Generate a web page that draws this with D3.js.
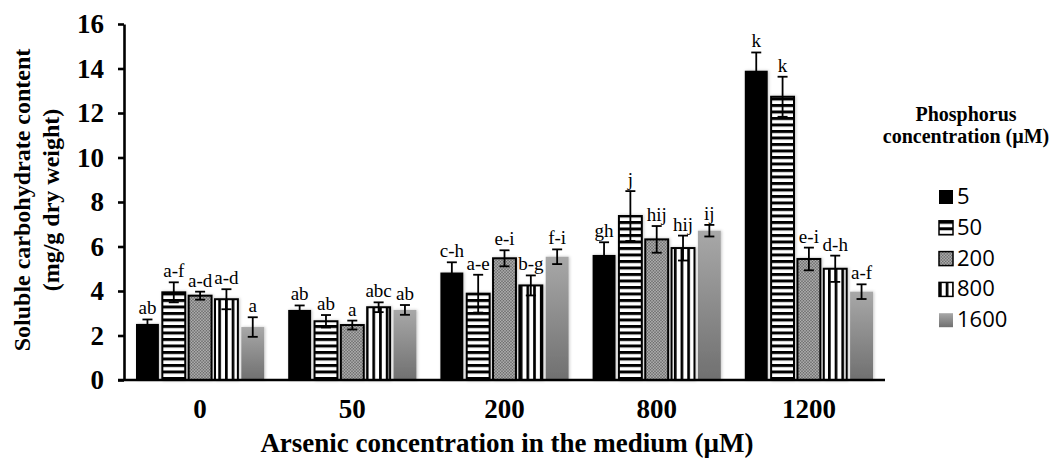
<!DOCTYPE html>
<html>
<head>
<meta charset="utf-8">
<script src="https://cdn.jsdelivr.net/npm/d3@7"></script>
<style>
  body { margin: 0; background: #fff; }
  svg { display: block; }
</style>
</head>
<body>
<svg id="chart"></svg>
<script>
// Soluble carbohydrate content by arsenic and phosphorus concentration

const width = 1051;
const height = 459;

const arsenic = ["0", "50", "200", "800", "1200"];
const phosphorus = ["5", "50", "200", "800", "1600"];
const yTicks = [0, 2, 4, 6, 8, 10, 12, 14, 16];

// means per phosphorus level, one value per arsenic level
const p5 = [2.52, 3.15, 4.83, 5.62, 13.9];
const p50 = [3.94, 2.64, 3.88, 7.37, 12.73];
const p200 = [3.79, 2.47, 5.47, 6.32, 5.44];
const p800 = [3.63, 3.27, 4.25, 5.93, 5.0];
const p1600 = [2.38, 3.15, 5.54, 6.71, 3.97];

// error bars
const e5 = [0.2, 0.2, 0.46, 0.57, 0.82];
const e50 = [0.45, 0.28, 0.85, 1.12, 0.9];
const e200 = [0.18, 0.2, 0.36, 0.6, 0.51];
const e800 = [0.45, 0.22, 0.45, 0.56, 0.59];
const e1600 = [0.44, 0.22, 0.33, 0.26, 0.33];

// significance letters
const l5 = ["ab", "ab", "c-h", "gh", "k"];
const l50 = ["a-f", "ab", "a-e", "j", "k"];
const l200 = ["a-d", "a", "e-i", "hij", "e-i"];
const l800 = ["a-d", "abc", "b-g", "hij", "d-h"];
const l1600 = ["a", "ab", "f-i", "ij", "a-f"];

const means = [p5, p50, p200, p800, p1600];
const errs = [e5, e50, e200, e800, e1600];
const letters = [l5, l50, l200, l800, l1600];

const fills = ["#000", "url(#hstripe)", "url(#checker)", "url(#vstripe)", "url(#grayfade)"];
const outlined = [false, true, true, true, false];

const serif = "'Liberation Serif', 'Times New Roman', serif";

const svg = d3.select("#chart").attr("width", width).attr("height", height);

// ---------- patterns ----------
const defs = svg.append("defs");

const hs = defs.append("pattern")
  .attr("id", "hstripe")
  .attr("patternUnits", "userSpaceOnUse")
  .attr("width", 6)
  .attr("height", 6.5);
hs.append("rect").attr("width", 6).attr("height", 6.5).attr("fill", "#fff");
hs.append("rect").attr("y", 0).attr("width", 6).attr("height", 3).attr("fill", "#000");

const vs = defs.append("pattern")
  .attr("id", "vstripe")
  .attr("patternUnits", "userSpaceOnUse")
  .attr("width", 6.7)
  .attr("height", 6);
vs.append("rect").attr("width", 6.7).attr("height", 6).attr("fill", "#fff");
vs.append("rect").attr("x", 0).attr("width", 2.7).attr("height", 6).attr("fill", "#000");

const ck = defs.append("pattern")
  .attr("id", "checker")
  .attr("patternUnits", "userSpaceOnUse")
  .attr("width", 3)
  .attr("height", 3);
ck.append("rect").attr("width", 3).attr("height", 3).attr("fill", "#c4c4c4");
ck.append("rect").attr("width", 1.5).attr("height", 1.5).attr("fill", "#5a5a5a");
ck.append("rect").attr("x", 1.5).attr("y", 1.5).attr("width", 1.5).attr("height", 1.5).attr("fill", "#5a5a5a");

const gf = defs.append("linearGradient")
  .attr("id", "grayfade")
  .attr("x1", 0).attr("y1", 0).attr("x2", 0).attr("y2", 1);
gf.append("stop").attr("offset", "0%").attr("stop-color", "#a8a8a8");
gf.append("stop").attr("offset", "100%").attr("stop-color", "#707070");

const shadow = defs.append("filter")
  .attr("id", "soft")
  .attr("x", "-30%").attr("y", "-10%").attr("width", "160%").attr("height", "120%");
shadow.append("feDropShadow")
  .attr("dx", 1).attr("dy", 0).attr("stdDeviation", 1.6)
  .attr("flood-color", "#000").attr("flood-opacity", 0.22);

// ---------- scales ----------
const xScale = d3.scaleBand().domain(arsenic).range([124, 885]);
const xInner = d3.scaleBand()
  .domain(phosphorus)
  .range([12, xScale.bandwidth() - 12])
  .paddingInner(0.13);
const yScale = d3.scaleLinear().domain([0, 16]).range([380, 24]);

// ---------- bars ----------
const series = phosphorus.map((p, i) => ({
  key: p,
  i: i,
  values: arsenic.map((a, j) => ({ a: a, v: means[i][j], e: errs[i][j], t: letters[i][j] })),
}));

const seriesG = svg.append("g")
  .selectAll("g")
  .data(series)
  .enter()
  .append("g")
  .attr("transform", (d) => "translate(" + xInner(d.key) + ",0)");

seriesG.selectAll("rect")
  .data((d) => d.values.map((v) => Object.assign({ i: d.i }, v)))
  .enter()
  .append("rect")
  .attr("x", (d) => xScale(d.a))
  .attr("y", (d) => yScale(d.v))
  .attr("width", xInner.bandwidth())
  .attr("height", (d) => yScale(0) - yScale(d.v))
  .attr("fill", (d) => fills[d.i])
  .attr("stroke", (d) => (outlined[d.i] ? "#000" : "none"))
  .attr("stroke-width", 2)
  .attr("filter", "url(#soft)");

// error bars
const errG = seriesG.selectAll("g.err")
  .data((d) => d.values)
  .enter()
  .append("g")
  .attr("class", "err")
  .attr("stroke", "#000")
  .attr("stroke-width", 1.8);

const cx = (d) => xScale(d.a) + xInner.bandwidth() / 2;

errG.append("line")
  .attr("x1", cx).attr("x2", cx)
  .attr("y1", (d) => yScale(d.v - d.e))
  .attr("y2", (d) => yScale(d.v + d.e));
errG.append("line")
  .attr("x1", (d) => cx(d) - 5).attr("x2", (d) => cx(d) + 5)
  .attr("y1", (d) => yScale(d.v + d.e))
  .attr("y2", (d) => yScale(d.v + d.e));
errG.append("line")
  .attr("x1", (d) => cx(d) - 5).attr("x2", (d) => cx(d) + 5)
  .attr("y1", (d) => yScale(d.v - d.e))
  .attr("y2", (d) => yScale(d.v - d.e));

// letters
seriesG.selectAll("text")
  .data((d) => d.values)
  .enter()
  .append("text")
  .attr("x", cx)
  .attr("y", (d) => yScale(d.v + d.e) - 5)
  .attr("text-anchor", "middle")
  .style("font-family", serif)
  .style("font-size", "19px")
  .text((d) => d.t);

// ---------- axes ----------
const yAxis = d3.axisLeft(yScale)
  .tickValues(yTicks)
  .tickSize(6)
  .tickSizeOuter(0)
  .tickPadding(14);

const yG = svg.append("g")
  .attr("transform", "translate(124,0)")
  .call(yAxis);
yG.select(".domain").attr("stroke-width", 2.6);
yG.selectAll(".tick line").attr("stroke-width", 2.6);
yG.selectAll(".tick text")
  .style("font-family", serif)
  .style("font-size", "27px")
  .style("font-weight", "bold");

const xAxis = d3.axisBottom(xScale).tickSize(0).tickPadding(19);
const xG = svg.append("g")
  .attr("transform", "translate(0,380)")
  .call(xAxis);
xG.select(".domain").remove();
xG.selectAll(".tick text")
  .style("font-family", serif)
  .style("font-size", "27px")
  .style("font-weight", "bold");

svg.append("line")
  .attr("x1", 118).attr("x2", 885)
  .attr("y1", 380).attr("y2", 380)
  .attr("stroke", "#000")
  .attr("stroke-width", 2.6);

// axis titles
svg.append("text")
  .attr("x", 507)
  .attr("y", 452)
  .attr("text-anchor", "middle")
  .style("font-family", serif)
  .style("font-size", "27px")
  .style("font-weight", "bold")
  .text("Arsenic concentration in the medium (µM)");

const yTitle = svg.append("text")
  .attr("transform", "translate(0,200) rotate(-90)")
  .attr("text-anchor", "middle")
  .style("font-family", serif)
  .style("font-size", "24px")
  .style("font-weight", "bold");
yTitle.append("tspan").attr("x", 0).attr("y", 30).text("Soluble carbohydrate content");
yTitle.append("tspan").attr("x", 0).attr("y", 59).text("(mg/g dry weight)");

// ---------- legend ----------
const legendTitle = svg.append("text")
  .attr("text-anchor", "middle")
  .style("font-family", serif)
  .style("font-size", "20px")
  .style("font-weight", "bold");
legendTitle.append("tspan").attr("x", 966).attr("y", 121).text("Phosphorus");
legendTitle.append("tspan").attr("x", 966).attr("y", 143).text("concentration (µM)");

const legend = svg.append("g")
  .selectAll("g")
  .data(phosphorus)
  .enter()
  .append("g")
  .attr("transform", (d, i) => "translate(939," + (190 + i * 30.8) + ")");

legend.append("rect")
  .attr("width", 14)
  .attr("height", 14)
  .attr("fill", (d, i) => fills[i])
  .attr("stroke", (d, i) => (outlined[i] ? "#000" : "none"))
  .attr("stroke-width", 1.5);

legend.append("text")
  .attr("x", 18)
  .attr("y", 14)
  .style("font-family", "'Open Sans', sans-serif")
  .style("font-size", "22px")
  .text((d) => d);
</script>
</body>
</html>
